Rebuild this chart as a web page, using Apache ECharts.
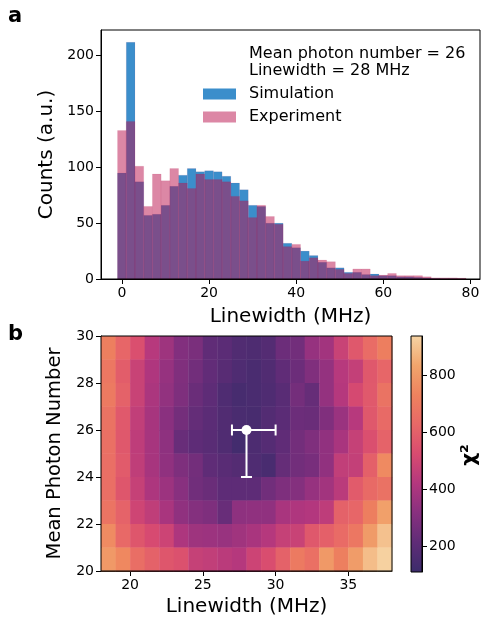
<!DOCTYPE html>
<html>
<head>
<meta charset="utf-8">
<script src="https://cdn.jsdelivr.net/npm/echarts@6/dist/echarts.min.js"></script>
<style>
html,body{margin:0;padding:0;background:#fff;}
#chart{width:485px;height:618px;}
</style>
</head>
<body>
<div id="chart"></div>
<script>
// ---------- Panel a: histogram ----------
const binCenters = [0,2,4,6,8,10,12,14,16,18,20,22,24,26,28,30,32,34,36,38,40,42,44,46,48,50,52,54,56,58,60,62,64,66,68,70,72,74,76,78];
const binWidth = 2;
const simCounts = [95,212,87,57,58,66,83,93,99,96,97,96,92,86,80,66,65,50,50,32,28,25,21,15,10,10,6,6,4,4.5,3,3,2,2,1.5,1,0.5,0.3,0.3,0.2];
const expCounts = [133,141,101,65,94,88,99,86,81,94,89,89,87,74,70,55,66,56,49,29,31,16,19,17,15.5,8.6,5,9,9,3,3.5,5,3,3,3,2,1,1,1,0.8];
const histXTicks = [0,20,40,60,80];
const histYTicks = [0,50,100,150,200];
const annotation = ['Mean photon number = 26', 'Linewidth = 28 MHz'];

// ---------- Panel b: chi-square map ----------
const linewidthCols = [18.5,19.5,20.5,21.5,22.5,23.5,24.5,25.5,26.5,27.5,28.5,29.5,30.5,31.5,32.5,33.5,34.5,35.5,36.5,37.5];
const photonRows = [29.5,28.5,27.5,26.5,25.5,24.5,23.5,22.5,21.5,20.5];
const chi2 = [
  [720,620,540,430,370,300,280,215,200,170,160,180,245,260,350,380,480,570,645,715],
  [690,590,480,410,350,295,260,220,190,165,150,170,215,245,295,345,430,465,570,620],
  [700,605,480,400,340,290,240,210,165,140,150,165,195,265,230,345,425,515,575,670],
  [670,575,460,390,320,265,225,200,170,150,145,175,200,245,240,295,360,430,570,635],
  [660,570,450,390,330,235,210,195,168,130,158,182,215,262,292,338,395,470,540,610],
  [655,580,455,390,335,290,262,212,195,178,165,148,228,260,275,338,460,465,600,755],
  [655,565,470,405,365,315,258,240,210,210,210,258,290,305,350,378,440,580,635,668],
  [675,610,495,455,395,335,305,290,235,330,335,335,395,410,420,450,605,620,715,820],
  [760,630,565,520,490,405,370,365,355,375,395,425,470,480,570,600,640,690,805,900],
  [800,750,650,605,565,545,470,460,440,425,490,530,605,700,660,800,720,810,890,935]
];
const bestFit = [28, 26];
const errLinewidth = [27, 30];
const errPhoton = [24, 26];
const mapXTicks = [20,25,30,35];
const mapYTicks = [20,22,24,26,28,30];
const chi2Range = [108, 940];
const cbarTicks = [200,400,600,800];
const cmap = ['#3c2c6b','#5f2c77','#88307f','#b3377e','#d84b70','#e86867','#ee825e','#f1a56c','#f6d3a3'];

const FONT = 'DejaVu Sans';
const simColor = '#3b8ecb';
const expColor = 'rgba(185,15,75,0.5)';

const heatData = [];
photonRows.forEach((y, r) => linewidthCols.forEach((x, c) => heatData.push([x, y, chi2[r][c]])));

function histRender(color) {
  return function (params, api) {
    const c = api.value(0), v = api.value(1);
    const p0 = api.coord([c - binWidth / 2, v]);
    const p1 = api.coord([c + binWidth / 2, 0]);
    return {
      type: 'rect',
      shape: { x: p0[0], y: p0[1], width: p1[0] - p0[0], height: p1[1] - p0[1] },
      style: { fill: color, stroke: 'rgba(185,15,75,0.12)', lineWidth: 0.6 }
    };
  };
}

const chart = echarts.init(document.getElementById('chart'), null, { renderer: 'canvas' });

const axisCommon = {
  axisLine: { show: true, onZero: false, lineStyle: { color: '#000', width: 1 } },
  axisTick: { show: true, length: 5, lineStyle: { color: '#000', width: 1 } },
  axisLabel: { color: '#000', fontSize: 14, fontFamily: FONT, margin: 7 },
  splitLine: { show: false },
  nameTextStyle: { color: '#000', fontSize: 20, fontFamily: FONT }
};
function ax(extra) {
  const o = JSON.parse(JSON.stringify(axisCommon));
  for (const k in extra) {
    if (typeof extra[k] === 'object' && !Array.isArray(extra[k]) && o[k]) Object.assign(o[k], extra[k]);
    else o[k] = extra[k];
  }
  return o;
}

const option = {
  animation: false,
  backgroundColor: '#fff',
  textStyle: { fontFamily: FONT },
  grid: [
    { left: 101, top: 30, width: 379, height: 249, show: true, borderColor: '#000', borderWidth: 1, z: 5 },
    { left: 101, top: 336, width: 291, height: 236, show: true, borderColor: '#000', borderWidth: 1, z: 5 },
    { left: 411, top: 336, width: 11, height: 236, show: true, borderColor: '#000', borderWidth: 1, z: 5 }
  ],
  xAxis: [
    ax({ gridIndex: 0, type: 'value', min: -4.8, max: 82.2,
      axisTick: { customValues: histXTicks }, axisLabel: { customValues: histXTicks },
      name: 'Linewidth (MHz)', nameLocation: 'middle', nameGap: 28 }),
    ax({ gridIndex: 1, type: 'value', min: 18, max: 38,
      axisTick: { customValues: mapXTicks }, axisLabel: { customValues: mapXTicks },
      name: 'Linewidth (MHz)', nameLocation: 'middle', nameGap: 26 }),
    { gridIndex: 2, type: 'value', min: 0, max: 1, show: false }
  ],
  yAxis: [
    ax({ gridIndex: 0, type: 'value', min: 0, max: 223,
      axisTick: { customValues: histYTicks }, axisLabel: { customValues: histYTicks },
      name: 'Counts (a.u.)', nameLocation: 'middle', nameGap: 44 }),
    ax({ gridIndex: 1, type: 'value', min: 20, max: 30,
      axisTick: { customValues: mapYTicks }, axisLabel: { customValues: mapYTicks },
      name: 'Mean Photon Number', nameLocation: 'middle', nameGap: 32, nameTextStyle: { fontSize: 19.5 } }),
    ax({ gridIndex: 2, type: 'value', min: chi2Range[0], max: chi2Range[1], position: 'right',
      axisTick: { customValues: cbarTicks }, axisLabel: { customValues: cbarTicks } })
  ],
  visualMap: {
    type: 'continuous', show: false, min: chi2Range[0], max: chi2Range[1],
    dimension: 2, seriesIndex: 2, inRange: { color: cmap }
  },
  legend: {
    data: ['Simulation', 'Experiment'],
    orient: 'vertical', left: 203, top: 86, padding: 0,
    itemWidth: 33, itemHeight: 11, itemGap: 7, icon: 'rect',
    textStyle: { fontSize: 16, fontFamily: FONT, color: '#000', padding: [0, 0, 0, 8] }
  },
  graphic: [
    { type: 'text', left: 8, top: 6, style: { text: 'a', font: 'bold 21px "DejaVu Sans"', fill: '#000' } },
    { type: 'text', left: 8, top: 324, style: { text: 'b', font: 'bold 21px "DejaVu Sans"', fill: '#000' } },
    { type: 'text', left: 249, top: 46, style: { text: annotation[0], font: '16px "DejaVu Sans"', fill: '#000' } },
    { type: 'text', left: 249, top: 63, style: { text: annotation[1], font: '16px "DejaVu Sans"', fill: '#000' } },
    { type: 'text', x: 470, y: 455, rotation: Math.PI / 2,
      style: { text: 'χ²', font: 'bold 20px "DejaVu Sans"', fill: '#000', align: 'center', verticalAlign: 'middle' } }
  ],
  series: [
    { name: 'Simulation', type: 'custom', xAxisIndex: 0, yAxisIndex: 0,
      itemStyle: { color: simColor }, renderItem: histRender(simColor),
      data: binCenters.map((c, i) => [c, simCounts[i]]), encode: { x: 0, y: 1 }, z: 2 },
    { name: 'Experiment', type: 'custom', xAxisIndex: 0, yAxisIndex: 0,
      itemStyle: { color: expColor }, renderItem: histRender(expColor),
      data: binCenters.map((c, i) => [c, expCounts[i]]), encode: { x: 0, y: 1 }, z: 3 },
    { name: 'chi2', type: 'custom', xAxisIndex: 1, yAxisIndex: 1,
      data: heatData, encode: { x: 0, y: 1 },
      renderItem: function (params, api) {
        const x = api.value(0), y = api.value(1);
        const p0 = api.coord([x - 0.5, y + 0.5]);
        const p1 = api.coord([x + 0.5, y - 0.5]);
        return { type: 'rect', shape: { x: p0[0], y: p0[1], width: p1[0] - p0[0] + 0.4, height: p1[1] - p0[1] + 0.4 },
          style: { fill: api.visual('color') } };
      } },
    { name: 'best', type: 'custom', xAxisIndex: 1, yAxisIndex: 1, z: 4,
      data: [[bestFit[0], bestFit[1], errLinewidth[0], errLinewidth[1], errPhoton[0], errPhoton[1]]],
      encode: { x: 0, y: 1 },
      renderItem: function (params, api) {
        const c = api.coord([api.value(0), api.value(1)]);
        const l = api.coord([api.value(2), api.value(1)]);
        const r = api.coord([api.value(3), api.value(1)]);
        const b = api.coord([api.value(0), api.value(4)]);
        const t = api.coord([api.value(0), api.value(5)]);
        const cap = 5.5;
        const st = { stroke: '#fff', lineWidth: 2 };
        return { type: 'group', children: [
          { type: 'line', shape: { x1: l[0], y1: l[1], x2: r[0], y2: r[1] }, style: st },
          { type: 'line', shape: { x1: b[0], y1: b[1], x2: t[0], y2: t[1] }, style: st },
          { type: 'line', shape: { x1: l[0], y1: l[1] - cap, x2: l[0], y2: l[1] + cap }, style: st },
          { type: 'line', shape: { x1: r[0], y1: r[1] - cap, x2: r[0], y2: r[1] + cap }, style: st },
          { type: 'line', shape: { x1: b[0] - cap, y1: b[1], x2: b[0] + cap, y2: b[1] }, style: st },
          { type: 'line', shape: { x1: t[0] - cap, y1: t[1], x2: t[0] + cap, y2: t[1] }, style: st },
          { type: 'circle', shape: { cx: c[0], cy: c[1], r: 5 }, style: { fill: '#fff' } }
        ] };
      } },
    { name: 'colorbar', type: 'custom', xAxisIndex: 2, yAxisIndex: 2,
      data: [[0, chi2Range[0], 1, chi2Range[1]]], encode: { x: 0, y: 1 },
      renderItem: function (params, api) {
        const p0 = api.coord([api.value(0), api.value(3)]);
        const p1 = api.coord([api.value(2), api.value(1)]);
        const stops = cmap.map((c, i) => ({ offset: i / (cmap.length - 1), color: c }));
        return { type: 'rect', shape: { x: p0[0], y: p0[1], width: p1[0] - p0[0], height: p1[1] - p0[1] },
          style: { fill: new echarts.graphic.LinearGradient(0, 1, 0, 0, stops) } };
      } }
  ]
};
chart.setOption(option);
</script>
</body>
</html>
